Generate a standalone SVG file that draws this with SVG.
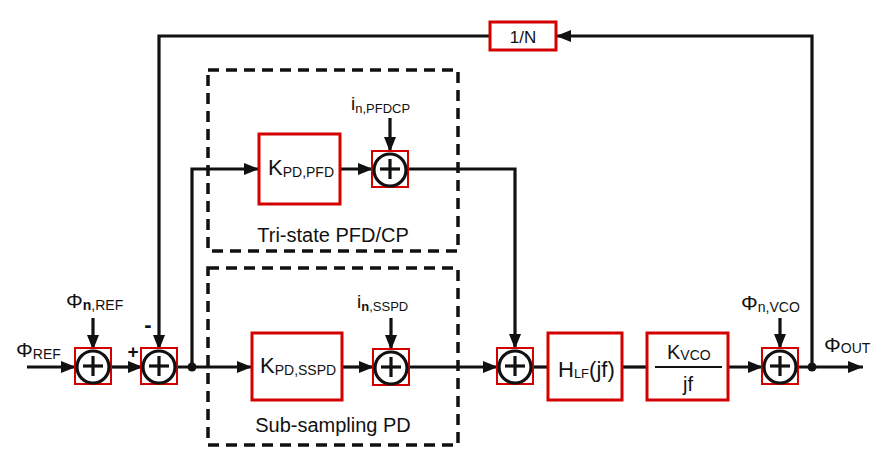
<svg xmlns="http://www.w3.org/2000/svg" width="884" height="459" viewBox="0 0 884 459">
<style>
text{font-family:"Liberation Sans",Arial,sans-serif;fill:#111}
.blk{fill:#fff;stroke:#d40000;stroke-width:3}
.sumbox{fill:#fff;stroke:#d40000;stroke-width:2}
.circ{fill:none;stroke:#111;stroke-width:3.2}
.plus{stroke:#111;stroke-width:3.2}
.w{fill:none;stroke:#111;stroke-width:3.2}
.dash{fill:none;stroke:#111;stroke-width:3.5;stroke-dasharray:11 7}
.a{marker-end:url(#ah)}
</style>
<defs>
<marker id="ah" markerUnits="userSpaceOnUse" markerWidth="16" markerHeight="12" refX="15" refY="6" orient="auto">
<path d="M0,0 L15,6 L0,12 z" fill="#111"/>
</marker>
<g id="sumshape">
<rect class="sumbox" x="-18" y="-18" width="36" height="36"/>
<circle class="circ" cx="0" cy="1" r="16"/>
<line class="plus" x1="-10" y1="0" x2="10" y2="0"/>
<line class="plus" x1="0" y1="-10" x2="0" y2="10"/>
</g>
</defs>
<rect width="884" height="459" fill="#fff"/>

<g id="groups">
<rect class="dash" x="208" y="70" width="250" height="181"/>
<rect class="dash" x="208" y="268" width="250" height="177"/>
<text x="333" y="242" font-size="20" text-anchor="middle">Tri-state PFD/CP</text>
<text x="333" y="432" font-size="20" text-anchor="middle">Sub-sampling PD</text>
</g>

<g id="connectors">
<line class="w a" x1="27" y1="367" x2="76" y2="367"/>
<line class="w a" x1="93" y1="318" x2="93" y2="350"/>
<line class="w a" x1="111" y1="367" x2="143" y2="367"/>
<polyline class="w a" points="812,367 812,36 556,36"/>
<polyline class="w a" points="490,36 159,36 159,350"/>
<line class="w a" x1="177" y1="367" x2="252" y2="367"/>
<polyline class="w a" points="192,367 192,169 259,169"/>
<line class="w a" x1="340" y1="169" x2="373" y2="169"/>
<line class="w a" x1="390" y1="118" x2="390" y2="152"/>
<polyline class="w a" points="408,169 515,169 515,349"/>
<line class="w a" x1="342" y1="367" x2="374" y2="367"/>
<line class="w a" x1="391" y1="318" x2="391" y2="350"/>
<line class="w a" x1="409" y1="367" x2="498" y2="367"/>
<line class="w" x1="533" y1="367" x2="548" y2="367"/>
<line class="w" x1="622" y1="367" x2="647" y2="367"/>
<line class="w a" x1="728" y1="367" x2="763" y2="367"/>
<line class="w a" x1="780" y1="318" x2="780" y2="349"/>
<line class="w a" x1="798" y1="367" x2="863" y2="367"/>
<circle cx="192" cy="367" r="4.5" fill="#111"/>
<circle cx="812" cy="367" r="4.5" fill="#111"/>
</g>

<g id="sum1"><use href="#sumshape" x="93" y="366"/></g>
<g id="sum2"><use href="#sumshape" x="159" y="366"/></g>
<g id="sum3"><use href="#sumshape" x="390" y="169"/></g>
<g id="sum5"><use href="#sumshape" x="391" y="367"/></g>
<g id="sum4"><use href="#sumshape" x="515" y="366"/></g>
<g id="sum6"><use href="#sumshape" x="780" y="366"/></g>

<g id="divN">
<rect class="blk" x="490" y="22" width="66" height="28"/>
<text x="523" y="43" font-size="17" text-anchor="middle">1/N</text>
</g>

<g id="kpfd">
<rect class="blk" x="259" y="134" width="81" height="70"/>
<text x="268" y="175" font-size="22">K<tspan font-size="14" dy="2">PD,PFD</tspan></text>
</g>

<g id="kssp">
<rect class="blk" x="252" y="333" width="90" height="67"/>
<text x="260" y="373" font-size="22">K<tspan font-size="14" dy="2">PD,SSPD</tspan></text>
</g>

<g id="hlf">
<rect class="blk" x="548" y="333" width="74" height="67"/>
<text x="558" y="377" font-size="22">H<tspan font-size="13" dy="1">LF</tspan><tspan dy="-1">(jf)</tspan></text>
</g>

<g id="kvco">
<rect class="blk" x="647" y="333" width="81" height="67"/>
<text x="667" y="359" font-size="20">K<tspan font-size="14" dy="1">VCO</tspan></text>
<line x1="655" y1="367" x2="722" y2="367" stroke="#111" stroke-width="2"/>
<text x="688" y="391" font-size="20" text-anchor="middle">jf</text>
</g>

<g id="labels">
<text x="16" y="357" font-size="21">Φ<tspan font-size="14" dy="2">REF</tspan></text>
<text x="66" y="308" font-size="21">Φ<tspan font-size="14" dy="2" font-weight="bold">n</tspan><tspan font-size="14">,REF</tspan></text>
<text x="133" y="358" font-size="19" font-weight="bold" text-anchor="middle">+</text>
<text x="148" y="332" font-size="22" font-weight="bold" text-anchor="middle">-</text>
<text x="351" y="110" font-size="19">i<tspan font-size="13" dy="3">n,PFDCP</tspan></text>
<text x="357" y="308" font-size="19">i<tspan font-size="13" dy="3" font-weight="bold">n</tspan><tspan font-size="13">,SSPD</tspan></text>
<text x="741" y="310" font-size="21">Φ<tspan font-size="14" dy="2">n,VCO</tspan></text>
<text x="824" y="352" font-size="21">Φ<tspan font-size="14" dy="1">OUT</tspan></text>
</g>
</svg>
